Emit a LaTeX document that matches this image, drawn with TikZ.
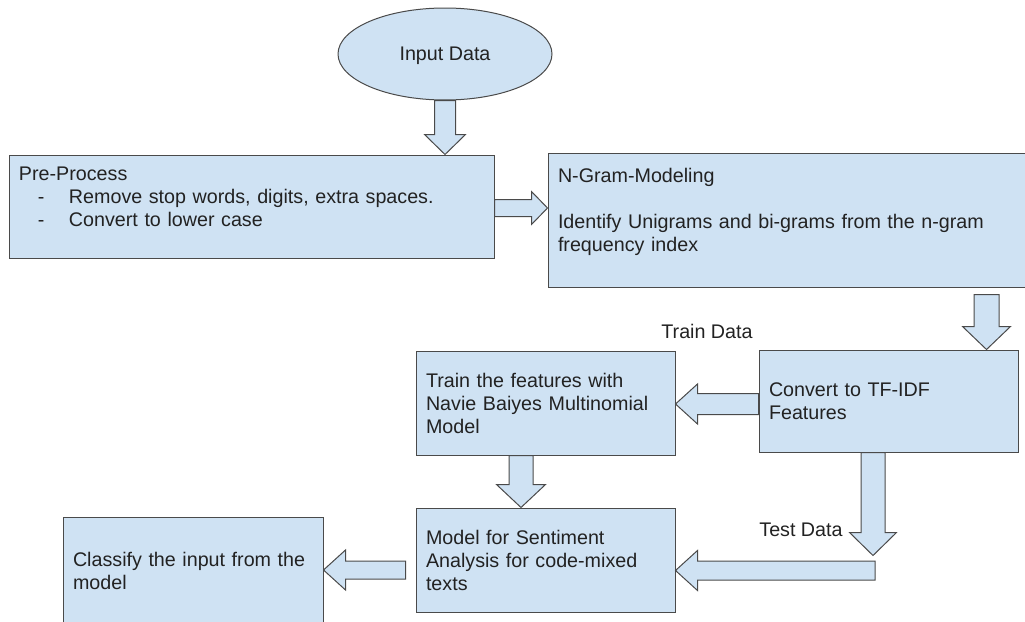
\documentclass[tikz,border=0pt]{standalone}
\usepackage{fontspec}
\setmainfont{Liberation Sans}
\usetikzlibrary{shapes.geometric,calc}
\definecolor{boxfill}{HTML}{CFE2F3}
\definecolor{boxline}{HTML}{4A4A4A}
\definecolor{txt}{HTML}{222222}
\newcommand\topstr{\rule{0pt}{17pt}}
\newcommand\botstr{\rule[-3pt]{0pt}{3pt}}
\newcommand\botstrx{\rule[-24pt]{0pt}{24pt}}
\newcommand\blockarr[5]{%
  \draw[barrow] let \p1=(#1), \p2=(#2),
    \n1={veclen(\x2-\x1,\y2-\y1)},
    \n2={(\x2-\x1)/\n1}, \n3={(\y2-\y1)/\n1},
    \p3=({\x2-(#5)*\n2},{\y2-(#5)*\n3})
  in ({\x1-(#3)*\n3},{\y1+(#3)*\n2})
  -- ({\x3-(#3)*\n3},{\y3+(#3)*\n2})
  -- ({\x3-(#4)*\n3},{\y3+(#4)*\n2})
  -- (\p2)
  -- ({\x3+(#4)*\n3},{\y3-(#4)*\n2})
  -- ({\x3+(#3)*\n3},{\y3-(#3)*\n2})
  -- ({\x1+(#3)*\n3},{\y1-(#3)*\n2}) -- cycle;}
\begin{document}
\begin{tikzpicture}[x=1pt,y=-1pt,
  base/.style={font=\fontsize{19.7}{23}\selectfont, text=txt},
  box/.style={base, draw=boxline, fill=boxfill, line width=1pt, rectangle,
    inner xsep=10pt, inner ysep=0pt, align=left},
  barrow/.style={draw=boxline, fill=boxfill, line width=1pt, line join=miter},
  lbl/.style={base, inner sep=0pt}]
\useasboundingbox (0,0) rectangle (1025,621);

% nodes
\node[base, ellipse, draw=boxline, fill=boxfill, line width=1pt,
  minimum width=214pt, minimum height=92pt, inner sep=0pt, text depth=0pt]
  (ell) at (445,54) {Input Data};

\node[box, text width=465pt, minimum height=103pt] (pre) at (251.5,206.5)
  {\topstr Pre-Process\\
   \hspace*{19pt}\makebox[31pt][l]{-}Remove stop words, digits, extra spaces.\\
   \hspace*{19pt}\makebox[31pt][l]{-}Convert to lower case\botstrx};

\node[box, text width=462pt, minimum height=134pt] (ng) at (789,220)
  {\topstr N-Gram-Modeling\\ \strut\\
   Identify Unigrams and bi-grams from the n-gram\\
   frequency index\botstrx};

\node[box, text width=239pt, minimum height=102pt] (tf) at (888.5,401)
  {\topstr Convert to TF-IDF\\ Features\botstr};

\node[box, text width=239pt, minimum height=104pt] (train) at (545.5,403)
  {\topstr Train the features with\\ Navie Baiyes Multinomial\\ Model\botstr};

\node[box, text width=239pt, minimum height=104pt] (model) at (545.5,560)
  {\topstr Model for Sentiment\\ Analysis for code-mixed\\ texts\botstr};

\node[box, text width=240pt, minimum height=108pt] (cls) at (193,571)
  {\topstr Classify the input from the\\ model\botstr};

\node[lbl] (trainlbl) at (707,331) {Train Data};
\node[lbl] (testlbl) at (801,530) {Test Data};

% connector coordinates
\coordinate (a1e) at (ell.south |- pre.north);
\coordinate (a2s) at ($(pre.east)+(0,1.5)$);
\coordinate (a2e) at (a2s -| ng.west);
\coordinate (a3e) at ($(tf.north east)+(-32,0)$);
\coordinate (a3s) at ($(a3e |- ng.south)+(0,7)$);
\coordinate (a4s) at ($(tf.west)+(0,3)$);
\coordinate (a4e) at (a4s -| train.east);
\coordinate (a5s) at ($(train.south)+(-24.5,0)$);
\coordinate (a5e) at (a5s |- model.north);
\coordinate (a6s) at ($(model.west)+(-10,10)$);
\coordinate (a6e) at (a6s -| cls.east);
\coordinate (a7s) at ($(tf.south)+(-15.5,0)$);
\coordinate (bend) at ($(a7s)+(0,103)$);
\coordinate (a8s) at ($(bend)+(2,15)$);
\coordinate (a8e) at (a8s -| model.east);

% block arrows
\blockarr{ell.south}{a1e}{10.5pt}{20.5pt}{20pt}
\blockarr{a2s}{a2e}{8.5pt}{16.5pt}{16pt}
\blockarr{a3s}{a3e}{12.5pt}{24pt}{23pt}
\blockarr{a4s}{a4e}{10.5pt}{20pt}{22pt}
\blockarr{a5s}{a5e}{12pt}{24.5pt}{23pt}
\blockarr{a6s}{a6e}{9pt}{20pt}{22pt}
\blockarr{a7s}{bend}{12pt}{23.5pt}{23pt}
\blockarr{a8s}{a8e}{9.5pt}{20pt}{22pt}
\end{tikzpicture}
\end{document}
